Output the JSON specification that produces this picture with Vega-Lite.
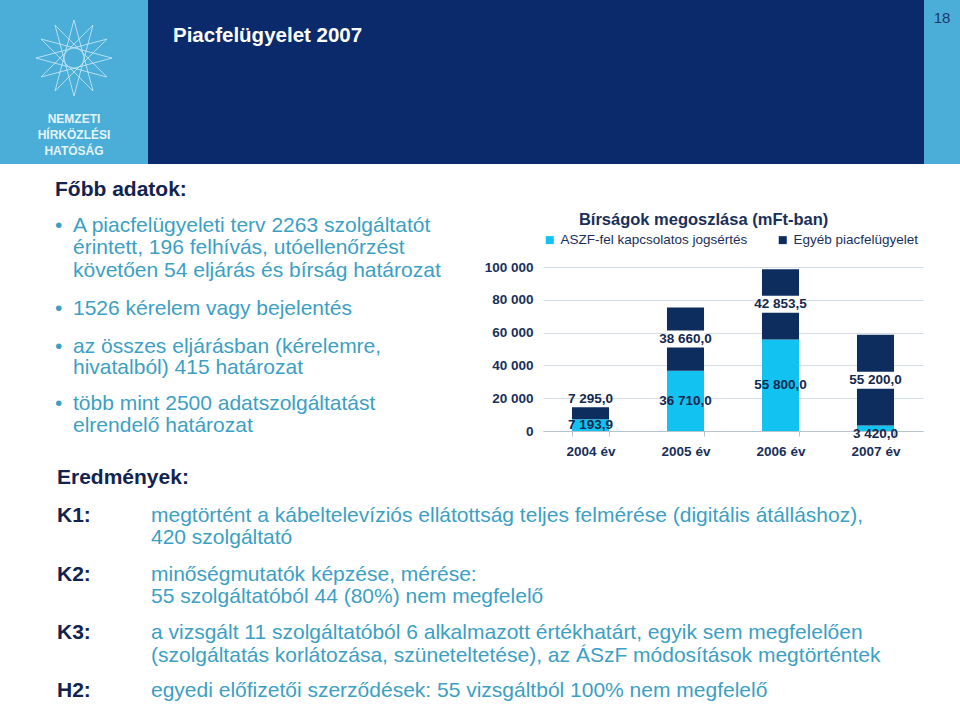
{
  "$schema": "https://vega.github.io/schema/vega-lite/v6.json",
  "padding": 0,
  "background": "white",
  "spacing": 0,
  "bounds": "full",
  "config": {
    "view": {"stroke": null},
    "font": "Liberation Sans",
    "locale": {"number": {"decimal": ",", "thousands": " ", "grouping": [3], "currency": ["", ""]}}
  },
  "resolve": {"scale": {"color": "independent"}, "legend": {"color": "independent"}},
  "vconcat": [
    {
      "spacing": 0,
      "bounds": "flush",
      "hconcat": [
        {
          "width": 148,
          "height": 164,
          "view": {"fill": "#4aaed8", "stroke": null},
          "title": {"text": ["NEMZETI", "HÍRKÖZLÉSI", "HATÓSÁG"], "orient": "bottom", "anchor": "middle", "offset": -50, "fontSize": 12, "fontWeight": "bold", "color": "#e4f4fb", "lineHeight": 16},
          "data": {"values": [{"logo": "NHH"}]},
          "mark": {"type": "point", "shape": "M1,-0.63L-0.866,-0.13L0.5,-1.496L0,0.37L-0.5,-1.496L0.866,-0.13L-1,-0.63L0.866,-1.13L-0.5,0.236L0,-1.63L0.5,0.236L-0.866,-1.13Z", "size": 5776, "filled": false, "stroke": "#e8f6fc", "strokeWidth": 0.8, "opacity": 0.85},
          "encoding": {}
        },
        {
          "width": 776,
          "height": 164,
          "view": {"fill": "#0b2a6c", "stroke": null},
          "title": {"text": "Piacfelügyelet 2007", "anchor": "start", "orient": "top", "offset": -46, "dx": 25, "fontSize": 20.5, "fontWeight": "bold", "color": "white"},
          "data": {"values": []},
          "mark": "text",
          "encoding": {}
        },
        {
          "width": 36,
          "height": 164,
          "view": {"fill": "#4aaed8", "stroke": null},
          "title": {"text": "18", "anchor": "middle", "orient": "top", "offset": -26, "fontSize": 15, "fontWeight": "normal", "color": "#1b3a6b"},
          "data": {"values": []},
          "mark": "text",
          "encoding": {}
        }
      ]
    },
    {
      "spacing": 0,
      "bounds": "flush",
      "resolve": {"scale": {"color": "independent"}, "legend": {"color": "independent"}},
      "hconcat": [
        {
          "width": 543,
          "height": 550,
          "data": {"values": [
            {"t": "Főbb adatok:", "kind": "head", "ind": 0, "ln": 1.18},
            {"t": "•", "kind": "dot", "ind": 0, "ln": 2.82},
            {"t": "A piacfelügyeleti terv 2263 szolgáltatót", "kind": "body", "ind": 0.9, "ln": 2.82},
            {"t": "érintett, 196 felhívás, utóellenőrzést", "kind": "body", "ind": 0.9, "ln": 3.82},
            {"t": "követően 54 eljárás és bírság határozat", "kind": "body", "ind": 0.9, "ln": 4.86},
            {"t": "•", "kind": "dot", "ind": 0, "ln": 6.59},
            {"t": "1526 kérelem vagy bejelentés", "kind": "body", "ind": 0.9, "ln": 6.59},
            {"t": "•", "kind": "dot", "ind": 0, "ln": 8.32},
            {"t": "az összes eljárásban (kérelemre,", "kind": "body", "ind": 0.9, "ln": 8.32},
            {"t": "hivatalból) 415 határozat", "kind": "body", "ind": 0.9, "ln": 9.27},
            {"t": "•", "kind": "dot", "ind": 0, "ln": 10.91},
            {"t": "több mint 2500 adatszolgáltatást", "kind": "body", "ind": 0.9, "ln": 10.91},
            {"t": "elrendelő határozat", "kind": "body", "ind": 0.9, "ln": 11.91},
            {"t": "Eredmények:", "kind": "head", "ind": 0.1, "ln": 14.27},
            {"t": "K1:", "kind": "head", "ind": 0.1, "ln": 16.0},
            {"t": "megtörtént a kábeltelevíziós ellátottság teljes felmérése (digitális átálláshoz),", "kind": "body", "ind": 4.8, "ln": 16.0},
            {"t": "420 szolgáltató", "kind": "body", "ind": 4.8, "ln": 17.0},
            {"t": "K2:", "kind": "head", "ind": 0.1, "ln": 18.68},
            {"t": "minőségmutatók képzése, mérése:", "kind": "body", "ind": 4.8, "ln": 18.68},
            {"t": "55 szolgáltatóból 44 (80%) nem megfelelő", "kind": "body", "ind": 4.8, "ln": 19.68},
            {"t": "K3:", "kind": "head", "ind": 0.1, "ln": 21.32},
            {"t": "a vizsgált 11 szolgáltatóból 6 alkalmazott értékhatárt, egyik sem megfelelően", "kind": "body", "ind": 4.8, "ln": 21.32},
            {"t": "(szolgáltatás korlátozása, szüneteltetése), az ÁSzF módosítások megtörténtek", "kind": "body", "ind": 4.8, "ln": 22.36},
            {"t": "H2:", "kind": "head", "ind": 0.1, "ln": 23.95},
            {"t": "egyedi előfizetői szerződések: 55 vizsgáltból 100% nem megfelelő", "kind": "body", "ind": 4.8, "ln": 23.95}
          ]},
          "encoding": {
            "x": {"field": "ind", "type": "quantitative", "scale": {"domain": [-2.75, 24.4], "nice": false, "zero": false}, "axis": null},
            "y": {"field": "ln", "type": "quantitative", "scale": {"domain": [0, 25], "reverse": true, "nice": false, "zero": false}, "axis": null},
            "text": {"field": "t"}
          },
          "layer": [
            {"transform": [{"filter": "datum.kind === 'head'"}], "mark": {"type": "text", "align": "left", "baseline": "middle", "fontSize": 21, "fontWeight": "bold", "color": "#12234f"}},
            {"transform": [{"filter": "datum.kind === 'body'"}], "mark": {"type": "text", "align": "left", "baseline": "middle", "fontSize": 21, "color": "#3c9fc3"}},
            {"transform": [{"filter": "datum.kind === 'dot'"}], "mark": {"type": "text", "align": "left", "baseline": "middle", "fontSize": 21, "color": "#3c9fc3"}}
          ]
        },
        {
          "spacing": 0,
          "bounds": "flush",
          "resolve": {"scale": {"color": "independent"}, "legend": {"color": "independent"}},
          "vconcat": [
            {"width": 380, "height": 103, "data": {"values": [{}]}, "mark": "text", "encoding": {}},
            {
              "width": 380,
              "height": 164,
              "title": {"text": "Bírságok megoszlása (mFt-ban)", "fontSize": 16.5, "fontWeight": "bold", "color": "#1a2f5a", "anchor": "middle", "frame": "bounds", "offset": 5},
              "data": {"values": [
                {"year": "2004 év", "series": "ASZF-fel kapcsolatos jogsértés", "value": 7193.9},
                {"year": "2004 év", "series": "Egyéb piacfelügyelet", "value": 7295.0},
                {"year": "2005 év", "series": "ASZF-fel kapcsolatos jogsértés", "value": 36710.0},
                {"year": "2005 év", "series": "Egyéb piacfelügyelet", "value": 38660.0},
                {"year": "2006 év", "series": "ASZF-fel kapcsolatos jogsértés", "value": 55800.0},
                {"year": "2006 év", "series": "Egyéb piacfelügyelet", "value": 42853.5},
                {"year": "2007 év", "series": "ASZF-fel kapcsolatos jogsértés", "value": 3420.0},
                {"year": "2007 év", "series": "Egyéb piacfelügyelet", "value": 55200.0}
              ]},
              "transform": [
                {"stack": "value", "groupby": ["year"], "sort": [{"field": "series", "order": "ascending"}], "as": ["v0", "v1"]},
                {"calculate": "(datum.v0 + datum.v1) / 2", "as": "mid"}
              ],
              "encoding": {
                "x": {"field": "year", "type": "nominal", "sort": null, "scale": {"paddingInner": 0.61, "paddingOuter": 0.305},
                  "axis": {"title": null, "labelAngle": 0, "labelFontSize": 13.5, "labelFontWeight": "bold", "labelColor": "#1a2f5a", "tickBand": "extent", "tickColor": "#b9c3cc", "tickSize": 5, "domainColor": "#b9c3cc", "labelPadding": 8}}
              },
              "layer": [
                {
                  "mark": {"type": "bar"},
                  "encoding": {
                    "y": {"field": "v0", "type": "quantitative", "scale": {"domain": [0, 100000], "nice": false},
                      "axis": {"title": null, "values": [0, 20000, 40000, 60000, 80000, 100000], "tickCount": 12, "format": ",.0f", "labelOverlap": false, "domain": false, "ticks": false, "gridColor": "#d3dde6", "labelFontSize": 13.5, "labelFontWeight": "bold", "labelColor": "#1a2f5a", "labelPadding": 10}},
                    "y2": {"field": "v1"},
                    "color": {"field": "series", "type": "nominal",
                      "scale": {"domain": ["ASZF-fel kapcsolatos jogsértés", "Egyéb piacfelügyelet"], "range": ["#12c3f1", "#0c2d5e"]},
                      "legend": {"orient": "top", "title": null, "symbolType": "square", "symbolSize": 64, "labelFontSize": 13.5, "labelColor": "#1a2f5a", "labelLimit": 300, "columnPadding": 28, "offset": 20}}
                  }
                },
                {
                  "transform": [{"filter": "datum.series === 'Egyéb piacfelügyelet' && datum.year !== '2004 év'"}],
                  "mark": {"type": "tick", "color": "white", "thickness": 17, "size": 38, "opacity": 1},
                  "encoding": {"y": {"field": "mid", "type": "quantitative"}}
                },
                {
                  "transform": [{"filter": "!(datum.year === '2004 év' && datum.series === 'Egyéb piacfelügyelet') && !(datum.year === '2007 év' && datum.series === 'ASZF-fel kapcsolatos jogsértés')"}],
                  "mark": {"type": "text", "fontSize": 13.5, "fontWeight": "bold", "color": "#13294f", "baseline": "middle"},
                  "encoding": {"y": {"field": "mid", "type": "quantitative"}, "text": {"field": "value", "type": "quantitative", "format": ",.1f"}}
                },
                {
                  "transform": [{"filter": "datum.year === '2004 év' && datum.series === 'Egyéb piacfelügyelet'"}],
                  "mark": {"type": "text", "fontSize": 13.5, "fontWeight": "bold", "color": "#13294f", "baseline": "middle", "dy": -8},
                  "encoding": {"y": {"field": "v1", "type": "quantitative"}, "text": {"field": "value", "type": "quantitative", "format": ",.1f"}}
                },
                {
                  "transform": [{"filter": "datum.year === '2007 év' && datum.series === 'ASZF-fel kapcsolatos jogsértés'"}],
                  "mark": {"type": "text", "fontSize": 13.5, "fontWeight": "bold", "color": "#13294f", "baseline": "middle", "dy": 3},
                  "encoding": {"y": {"field": "v0", "type": "quantitative"}, "text": {"field": "value", "type": "quantitative", "format": ",.1f"}}
                }
              ]
            }
          ]
        }
      ]
    }
  ]
}
